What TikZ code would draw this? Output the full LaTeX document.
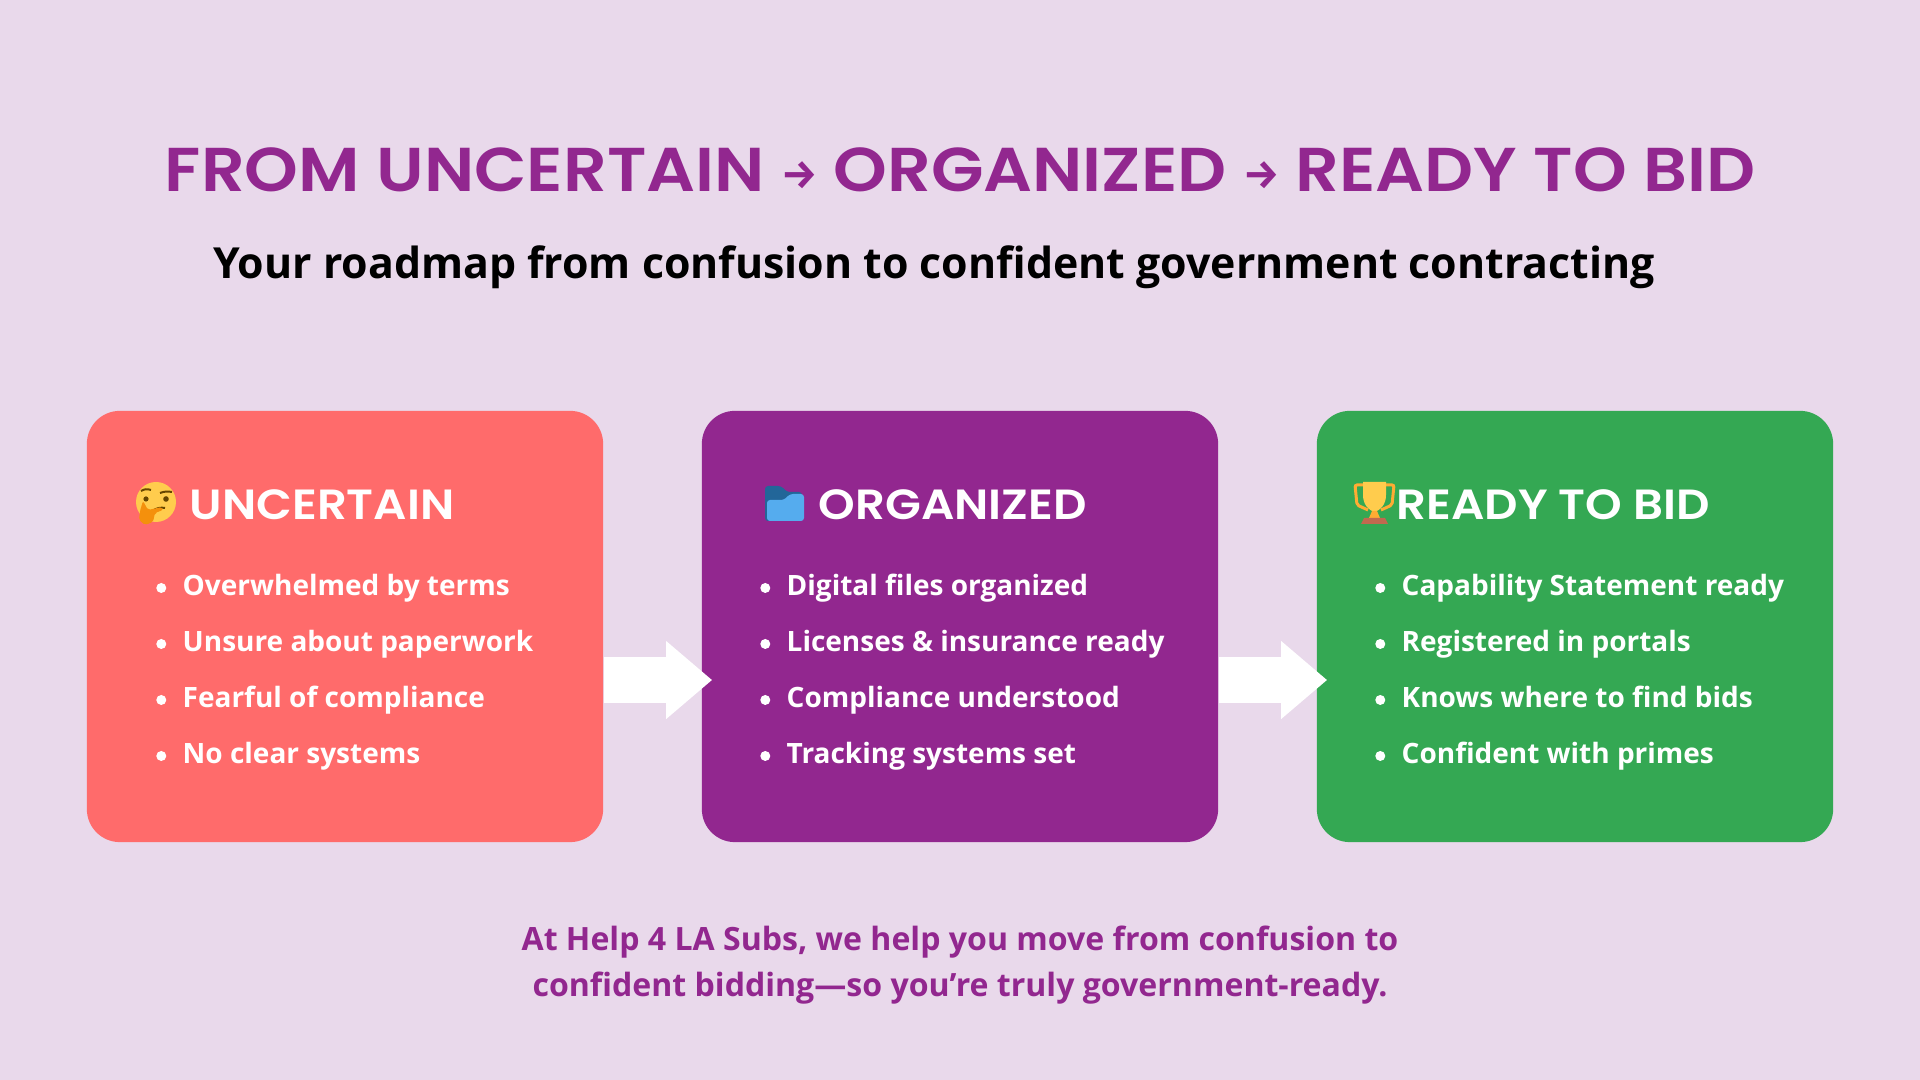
\documentclass[tikz,border=0pt]{standalone}
\usepackage{fontspec}
\setmainfont{Open Sans}
\newfontfamily\headfont[FakeStretch=1.105]{Poppins SemiBold}
\newfontfamily\arrowfont{Fira Sans Bold}
\newcommand{\headarrow}{{\arrowfont\fontsize{11.5}{13}\selectfont\raisebox{0.03cm}{→}}}
\usetikzlibrary{arrows.meta}
\definecolor{bgpink}{HTML}{E9D9EB}
\definecolor{coral}{HTML}{FF6B6B}
\definecolor{plum}{HTML}{92278F}
\definecolor{leaf}{HTML}{34A853}
\definecolor{facegold}{HTML}{FFCC4D}
\definecolor{handorange}{HTML}{F4900C}
\definecolor{eyebrown}{HTML}{664500}
\definecolor{folderback}{HTML}{226699}
\definecolor{folderfront}{HTML}{55ACEE}
\definecolor{cuporange}{HTML}{FFAC33}
\definecolor{cupbase}{HTML}{C1694F}
\begin{document}
\begin{tikzpicture}[
    x=0.01cm, y=-0.01cm,
    card/.style={rectangle, rounded corners=0.33cm, minimum width=5.16cm, minimum height=4.31cm, inner sep=0pt},
    cardtitle/.style={anchor=base west, inner sep=0pt, text=white, font=\headfont\fontsize{12}{15}\selectfont},
    item/.style={anchor=base west, inner sep=0pt, text=white, text height=0.24cm, text depth=0.08cm, font=\bfseries\fontsize{7.96}{10}\selectfont,
        label={[circle, fill=white, inner sep=0pt, minimum size=0.1cm, label distance=0.15cm]left:{}}},
    flow/.style={line width=0.46cm, white, -{Triangle[length=0.46cm, width=0.75cm]}}
]
% Background
\fill[bgpink] (0,0) rectangle (1920,1080);
% Headings
\node[anchor=base, inner sep=0pt, text=plum, font=\headfont\fontsize{17.6}{21}\selectfont] (heading) at (960,192)
    {FROM UNCERTAIN \headarrow{} ORGANIZED \headarrow{} READY TO BID};
\node[anchor=base, inner sep=0pt, font=\bfseries\fontsize{12.18}{15}\selectfont] (tagline) at (934,279)
    {Your roadmap from confusion to confident government contracting};
% Cards
\node[card, fill=coral] (uncertain) at (345,626.5) {};
\node[card, fill=plum] (organized) at (960,626.5) {};
\node[card, fill=leaf] (ready) at (1575,626.5) {};
% Arrows
\draw[flow] ([yshift=-0.535cm]uncertain.east) -- ([yshift=-0.535cm, xshift=0.11cm]organized.west);
\draw[flow] ([yshift=-0.535cm]organized.east) -- ([yshift=-0.535cm, xshift=0.11cm]ready.west);
% Card titles
\node[cardtitle] (uncertaintitle) at (189,520) {UNCERTAIN};
\node[cardtitle] (organizedtitle) at (818,520) {ORGANIZED};
\node[cardtitle] (readytitle) at (1396,520) {READY TO BID};
% Thinking face
\fill[facegold] (156,502) circle (20);
\fill[eyebrown] (146,499) circle (2.6) (166,499) circle (2.8);
\draw[eyebrown, line width=0.02cm] (141,491) to[bend left=25] (151,490) (160,493) to[bend left=15] (172,492) (154,510) to[bend left=20] (165,508);
\fill[handorange, rounded corners=0.02cm] (143,501) -- (148,510) -- (162,507) -- (163,510) -- (155,513) -- (153,522) -- (145,525) -- (139,520) -- (140,511) -- cycle;
% Folder
\fill[folderback, rounded corners=0.03cm] (765,521) -- (765,486) -- (781,486) -- (787,492) -- (802,492) -- (802,521) -- cycle;
\fill[folderfront, rounded corners=0.03cm] (767,521) -- (767,500) -- (784,500) -- (790,494) -- (804,494) -- (804,521) -- cycle;
% Trophy
\draw[cuporange, line width=0.03cm, rounded corners=0.02cm] (1363,485) -- (1355,485) -- (1357,505) -- (1368,510);
\draw[cuporange, line width=0.03cm, rounded corners=0.02cm] (1386,485) -- (1394,485) -- (1392,505) -- (1381,510);
\fill[facegold] (1363,482) -- (1386,482) -- (1386,495) .. controls (1386,505) and (1380,510) .. (1375,512) -- (1374,512) .. controls (1369,510) and (1363,505) .. (1363,495) -- cycle;
\fill[cuporange] (1372,511) -- (1377,511) -- (1380,518) -- (1369,518) -- cycle;
\fill[cupbase] (1364,518) -- (1385,518) -- (1388,524) -- (1361,524) -- cycle;
% Lists
\node[item] (u1) at (182,596) {Overwhelmed by terms};
\node[item] (u2) at (182,652) {Unsure about paperwork};
\node[item] (u3) at (182,708) {Fearful of compliance};
\node[item] (u4) at (182,764) {No clear systems};
\node[item] (o1) at (786,596) {Digital files organized};
\node[item] (o2) at (786,652) {Licenses \& insurance ready};
\node[item] (o3) at (786,708) {Compliance understood};
\node[item] (o4) at (786,764) {Tracking systems set};
\node[item] (r1) at (1401,596) {Capability Statement ready};
\node[item] (r2) at (1401,652) {Registered in portals};
\node[item] (r3) at (1401,708) {Knows where to find bids};
\node[item] (r4) at (1401,764) {Confident with primes};
% Closing line
\node[anchor=center, inner sep=0pt, align=center, text=plum, font=\bfseries\fontsize{9.12}{13.2}\selectfont] (closing) at (960,965)
    {At Help 4 LA Subs, we help you move from confusion to\\confident bidding—so you’re truly government-ready.};
\end{tikzpicture}
\end{document}
